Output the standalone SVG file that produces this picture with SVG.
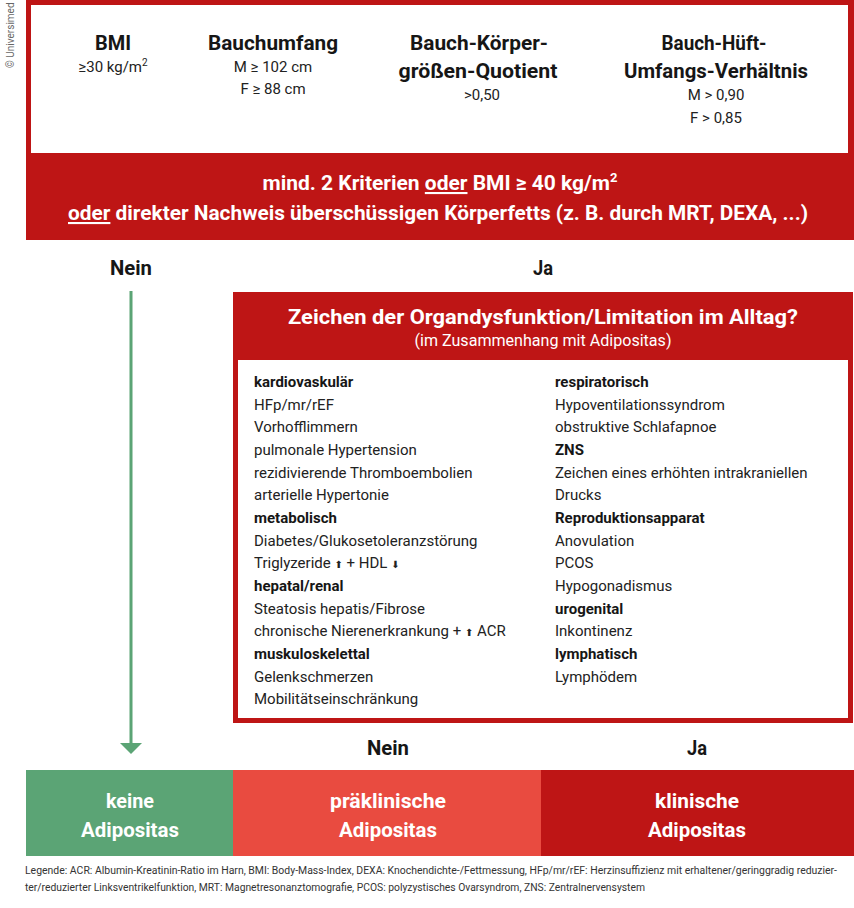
<svg xmlns="http://www.w3.org/2000/svg" width="854" height="908" viewBox="0 0 854 908">
<style>
.h{font-family:Roboto,"Liberation Sans",sans-serif;font-weight:bold;font-size:21px;fill:#161616;text-anchor:middle}
.hw{font-family:Roboto,"Liberation Sans",sans-serif;font-weight:bold;font-size:21px;fill:#ffffff;text-anchor:middle}
.v{font-family:Roboto,"Liberation Sans",sans-serif;font-size:15px;fill:#222;text-anchor:middle}
.l{font-family:Roboto,"Liberation Sans",sans-serif;font-size:15px;fill:#222}
.lb{font-family:Roboto,"Liberation Sans",sans-serif;font-size:15px;font-weight:bold;fill:#161616}
.lg{font-family:Roboto,"Liberation Sans",sans-serif;font-size:10px;fill:#333}
.ar{font-family:"DejaVu Sans",sans-serif;font-size:10px;fill:#222}
.dr{fill:#BE1515}
</style>
<rect width="854" height="908" fill="#ffffff"/>
<text x="14" y="68" transform="rotate(-90 14 68)" font-family="Roboto,'Liberation Sans',sans-serif" font-size="10" fill="#666">© Universimed</text>

<g id="criteria">
<rect x="26" y="0" width="828" height="240" class="dr"/>
<rect x="31" y="5" width="817" height="148" fill="#ffffff"/>
<text class="h" x="113" y="50" textLength="36" lengthAdjust="spacingAndGlyphs">BMI</text>
<text class="v" x="113" y="72">≥30 kg/m<tspan dy="-6" font-size="10">2</tspan></text>
<text class="h" x="273" y="50" textLength="130" lengthAdjust="spacingAndGlyphs">Bauchumfang</text>
<text class="v" x="273" y="72">M ≥ 102 cm</text>
<text class="v" x="273" y="94">F ≥ 88 cm</text>
<text class="h" x="479" y="50" textLength="138" lengthAdjust="spacingAndGlyphs">Bauch-Körper-</text>
<text class="h" x="478" y="78" textLength="159" lengthAdjust="spacingAndGlyphs">größen-Quotient</text>
<text class="v" x="482" y="100">&gt;0,50</text>
<text class="h" x="714" y="50" textLength="105" lengthAdjust="spacingAndGlyphs">Bauch-Hüft-</text>
<text class="h" x="716" y="78" textLength="184" lengthAdjust="spacingAndGlyphs">Umfangs-Verhältnis</text>
<text class="v" x="716" y="100">M &gt; 0,90</text>
<text class="v" x="716" y="123">F &gt; 0,85</text>
<text class="hw" x="440" y="190" textLength="355" lengthAdjust="spacingAndGlyphs">mind. 2 Kriterien <tspan text-decoration="underline">oder</tspan> BMI ≥ 40 kg/m<tspan dy="-8" font-size="13">2</tspan></text>
<text class="hw" x="438" y="220" textLength="740" lengthAdjust="spacingAndGlyphs"><tspan text-decoration="underline">oder</tspan> direkter Nachweis überschüssigen Körperfetts (z. B. durch MRT, DEXA, ...)</text>
</g>

<g id="connectors">
<text class="h" x="131" y="275" textLength="42" lengthAdjust="spacingAndGlyphs">Nein</text>
<text class="h" x="543" y="275" textLength="20" lengthAdjust="spacingAndGlyphs">Ja</text>
<line x1="131" y1="291" x2="131" y2="745" stroke="#5BA475" stroke-width="3"/>
<polygon points="120,743 142,743 131,754" fill="#5BA475"/>
<text class="h" x="388" y="755" textLength="42" lengthAdjust="spacingAndGlyphs">Nein</text>
<text class="h" x="697" y="755" textLength="20" lengthAdjust="spacingAndGlyphs">Ja</text>
</g>

<g id="organ">
<rect x="233" y="292" width="620" height="431" class="dr"/>
<rect x="238" y="360" width="610" height="358" fill="#ffffff"/>
<text class="hw" x="543" y="324" font-size="22" textLength="510" lengthAdjust="spacingAndGlyphs">Zeichen der Organdysfunktion/Limitation im Alltag?</text>
<text x="543" y="346" font-family="Roboto,'Liberation Sans',sans-serif" font-size="16" fill="#ffffff" text-anchor="middle" textLength="257" lengthAdjust="spacingAndGlyphs">(im Zusammenhang mit Adipositas)</text>
<text class="lb" x="254" y="387">kardiovaskulär</text>
<text class="l" x="254" y="409.6">HFp/mr/rEF</text>
<text class="l" x="254" y="432.3">Vorhofflimmern</text>
<text class="l" x="254" y="455">pulmonale Hypertension</text>
<text class="l" x="254" y="477.6">rezidivierende Thromboembolien</text>
<text class="l" x="254" y="500.2">arterielle Hypertonie</text>
<text class="lb" x="254" y="522.9">metabolisch</text>
<text class="l" x="254" y="545.5">Diabetes/Glukosetoleranzstörung</text>
<text class="l" x="254" y="568.2">Triglyzeride <tspan class="ar">⬆</tspan> + HDL <tspan class="ar">⬇</tspan></text>
<text class="lb" x="254" y="590.8">hepatal/renal</text>
<text class="l" x="254" y="613.5">Steatosis hepatis/Fibrose</text>
<text class="l" x="254" y="636.2">chronische Nierenerkrankung + <tspan class="ar">⬆</tspan> ACR</text>
<text class="lb" x="254" y="658.8">muskuloskelettal</text>
<text class="l" x="254" y="681.5">Gelenkschmerzen</text>
<text class="l" x="254" y="704">Mobilitätseinschränkung</text>
<text class="lb" x="555" y="387">respiratorisch</text>
<text class="l" x="555" y="409.6">Hypoventilationssyndrom</text>
<text class="l" x="555" y="432.3">obstruktive Schlafapnoe</text>
<text class="lb" x="555" y="455">ZNS</text>
<text class="l" x="555" y="477.6">Zeichen eines erhöhten intrakraniellen</text>
<text class="l" x="555" y="500.2">Drucks</text>
<text class="lb" x="555" y="522.9">Reproduktionsapparat</text>
<text class="l" x="555" y="545.5">Anovulation</text>
<text class="l" x="555" y="568.2">PCOS</text>
<text class="l" x="555" y="590.8">Hypogonadismus</text>
<text class="lb" x="555" y="613.5">urogenital</text>
<text class="l" x="555" y="636.2">Inkontinenz</text>
<text class="lb" x="555" y="658.8">lymphatisch</text>
<text class="l" x="555" y="681.5">Lymphödem</text>
</g>

<g id="keine">
<rect x="26" y="770" width="207" height="86" fill="#5BA475"/>
<text class="hw" x="130" y="808" textLength="48" lengthAdjust="spacingAndGlyphs">keine</text>
<text class="hw" x="130" y="837" textLength="98" lengthAdjust="spacingAndGlyphs">Adipositas</text>
</g>
<g id="praeklinisch">
<rect x="233" y="770" width="308" height="86" fill="#E94B40"/>
<text class="hw" x="388" y="808" textLength="116" lengthAdjust="spacingAndGlyphs">präklinische</text>
<text class="hw" x="388" y="837" textLength="98" lengthAdjust="spacingAndGlyphs">Adipositas</text>
</g>
<g id="klinisch">
<rect x="541" y="770" width="313" height="86" class="dr"/>
<text class="hw" x="697" y="808" textLength="84" lengthAdjust="spacingAndGlyphs">klinische</text>
<text class="hw" x="697" y="837" textLength="98" lengthAdjust="spacingAndGlyphs">Adipositas</text>
</g>

<g id="legend">
<text class="lg" x="25" y="874" textLength="812" lengthAdjust="spacingAndGlyphs">Legende: ACR: Albumin-Kreatinin-Ratio im Harn, BMI: Body-Mass-Index, DEXA: Knochendichte-/Fettmessung, HFp/mr/rEF: Herzinsuffizienz mit erhaltener/geringgradig reduzier-</text>
<text class="lg" x="25" y="891" textLength="620" lengthAdjust="spacingAndGlyphs">ter/reduzierter Linksventrikelfunktion, MRT: Magnetresonanztomografie, PCOS: polyzystisches Ovarsyndrom, ZNS: Zentralnervensystem</text>
</g>
</svg>
